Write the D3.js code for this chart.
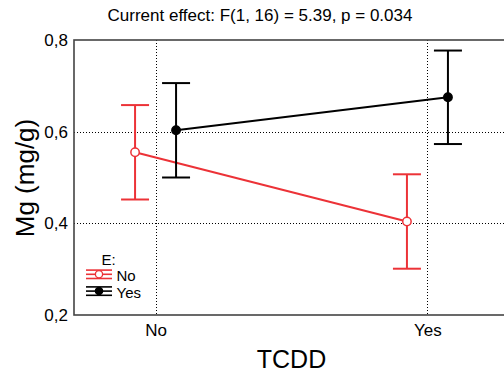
<!DOCTYPE html>
<html>
<head>
<meta charset="utf-8">
<script src="https://cdn.jsdelivr.net/npm/d3@7"></script>
<style>
  html, body { margin: 0; padding: 0; background: #fff; overflow: hidden; }
  svg { display: block; font-family: "Liberation Sans", Arial, sans-serif; }
</style>
</head>
<body>
<svg id="chart" width="504" height="380"></svg>
<script>
// Factor levels
const tcddLevels = ["No", "Yes"];
const eLevels = ["No", "Yes"];

// Means and error-bar half-widths of Mg (mg/g), per E level, across TCDD levels
const meansENo  = [0.555, 0.404];
const errENo    = [0.103, 0.103];
const meansEYes = [0.603, 0.675];
const errEYes   = [0.103, 0.102];

const yTicks = [0.2, 0.4, 0.6, 0.8];
const yTickLabels = ["0,2", "0,4", "0,6", "0,8"];

const titleText = "Current effect: F(1, 16) = 5.39, p = 0.034";
const xLabel = "TCDD";
const yLabel = "Mg (mg/g)";
const legendTitle = "E:";

const series = [
  { name: eLevels[0], means: meansENo,  errs: errENo,  color: "#ec3237", fill: "#ffffff", offset: -20.5 },
  { name: eLevels[1], means: meansEYes, errs: errEYes, color: "#000000", fill: "#000000", offset: 20.5 }
];

const svg = d3.select("#chart");
const plot = { left: 74, right: 509, top: 40, bottom: 315 };

const x = d3.scalePoint().domain(tcddLevels).range([plot.left, plot.right]).padding(0.3);
const y = d3.scaleLinear().domain([0.2, 0.8]).range([plot.bottom, plot.top]);

// Dotted grid
const grid = svg.append("g").attr("stroke", "#000").attr("stroke-width", 1).attr("stroke-dasharray", "1,2");
grid.selectAll("line.h").data([0.4, 0.6]).join("line")
  .attr("x1", plot.left).attr("x2", plot.right)
  .attr("y1", d => Math.round(y(d)) + 0.5).attr("y2", d => Math.round(y(d)) + 0.5);
grid.selectAll("line.v").data(tcddLevels).join("line")
  .attr("x1", d => Math.round(x(d)) + 0.5).attr("x2", d => Math.round(x(d)) + 0.5)
  .attr("y1", plot.top).attr("y2", plot.bottom);

// Frame
svg.append("rect")
  .attr("x", plot.left).attr("y", plot.top)
  .attr("width", plot.right - plot.left).attr("height", plot.bottom - plot.top)
  .attr("fill", "none").attr("stroke", "#444").attr("stroke-width", 1.6);

// Axes
const yAxis = d3.axisLeft(y).tickValues(yTicks)
  .tickFormat((d, i) => yTickLabels[i]).tickSize(0).tickPadding(6);
svg.append("g").attr("transform", `translate(${plot.left},0)`).call(yAxis)
  .call(g => g.select(".domain").remove())
  .call(g => g.selectAll("text").attr("font-size", 17).attr("fill", "#000")
    .attr("font-family", "'Liberation Sans', Arial, sans-serif"));

const xAxis = d3.axisBottom(x).tickSize(0).tickPadding(9);
svg.append("g").attr("transform", `translate(0,${plot.bottom})`).call(xAxis)
  .call(g => g.select(".domain").remove())
  .call(g => g.selectAll("text").attr("font-size", 17).attr("fill", "#000")
    .attr("font-family", "'Liberation Sans', Arial, sans-serif"));

// Series: connecting lines, error bars, markers
const capHalf = 14;
series.forEach(s => {
  const pts = tcddLevels.map((lvl, i) => ({ cx: x(lvl) + s.offset, m: s.means[i], e: s.errs[i] }));
  const g = svg.append("g");
  g.append("path")
    .attr("d", d3.line().x(d => d.cx).y(d => y(d.m))(pts))
    .attr("fill", "none").attr("stroke", s.color).attr("stroke-width", 2);
  const eb = g.selectAll("g.eb").data(pts).join("g").attr("stroke", s.color).attr("stroke-width", 2);
  eb.append("line").attr("x1", d => d.cx).attr("x2", d => d.cx)
    .attr("y1", d => y(d.m + d.e)).attr("y2", d => y(d.m - d.e));
  eb.append("line").attr("x1", d => d.cx - capHalf).attr("x2", d => d.cx + capHalf)
    .attr("y1", d => y(d.m + d.e)).attr("y2", d => y(d.m + d.e));
  eb.append("line").attr("x1", d => d.cx - capHalf).attr("x2", d => d.cx + capHalf)
    .attr("y1", d => y(d.m - d.e)).attr("y2", d => y(d.m - d.e));
  g.selectAll("circle").data(pts).join("circle")
    .attr("cx", d => d.cx).attr("cy", d => y(d.m)).attr("r", 4.2)
    .attr("fill", s.fill).attr("stroke", s.color).attr("stroke-width", 1.5);
});

// Title and axis labels
svg.append("text").attr("x", 260).attr("y", 21).attr("text-anchor", "middle")
  .attr("font-size", 17).attr("fill", "#000").text(titleText);
svg.append("text").attr("x", (plot.left + plot.right) / 2).attr("y", 368).attr("text-anchor", "middle")
  .attr("font-size", 25).attr("fill", "#000").text(xLabel);
svg.append("text").attr("transform", "translate(34,178) rotate(-90)").attr("text-anchor", "middle")
  .attr("font-size", 26).attr("fill", "#000").text(yLabel);

// Legend
const lg = svg.append("g");
lg.append("text").attr("x", 101.5).attr("y", 265).attr("font-size", 15).attr("fill", "#000").text(legendTitle);
series.forEach((s, i) => {
  const cy = 274.3 + i * 16.8;
  const row = lg.append("g").attr("stroke", s.color).attr("stroke-width", 1.6);
  [-4.2, 0, 4.2].forEach(dy => row.append("line")
    .attr("x1", 86).attr("x2", 112).attr("y1", cy + dy).attr("y2", cy + dy));
  row.append("line").attr("x1", 99).attr("x2", 99).attr("y1", cy - 4.2).attr("y2", cy + 4.2);
  row.append("circle").attr("cx", 99).attr("cy", cy).attr("r", 3.6)
    .attr("fill", s.fill).attr("stroke", s.color).attr("stroke-width", 1.3);
  lg.append("text").attr("x", 116.5).attr("y", cy + 7).attr("font-size", 15)
    .attr("fill", "#000").text(s.name);
});
</script>
</body>
</html>
